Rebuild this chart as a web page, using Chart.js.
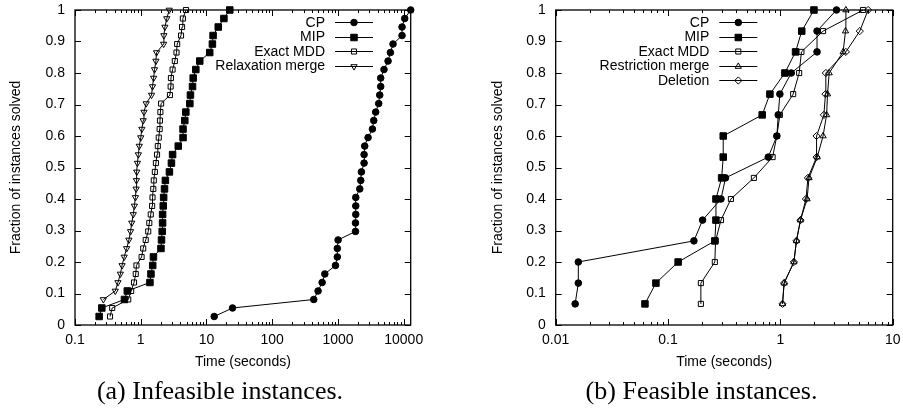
<!DOCTYPE html>
<html>
<head>
<meta charset="utf-8">
<script src="https://cdn.jsdelivr.net/npm/chart.js@4.4.1/dist/chart.umd.min.js"></script>
<style>
  body { margin: 0; background: #fff; }
  #wrap { position: relative; width: 903px; height: 409px; overflow: hidden; }
  .panel { position: absolute; top: 0; height: 380px; }
  .cap { position: absolute; top: 378px; font: 26px/26px "Liberation Serif", "Times New Roman", serif; color: #000; text-align: center; white-space: nowrap; }
</style>
</head>
<body>
<div id="wrap">
  <div class="panel" style="left:0;width:450px"><canvas id="chartA"></canvas></div>
  <div class="panel" style="left:450px;width:453px"><canvas id="chartB"></canvas></div>
  <div class="cap" style="left:0;width:440px">(a) Infeasible instances.</div>
  <div class="cap" style="left:450px;width:503px">(b) Feasible instances.</div>
</div>
<script>
// fraction of instances solved (k / 37 and k / 15)
var fracA = [0.027, 0.054, 0.081, 0.108, 0.135, 0.162, 0.189, 0.216, 0.243, 0.270, 0.297, 0.324, 0.351, 0.378, 0.405, 0.432, 0.459, 0.486, 0.514, 0.541, 0.568, 0.595, 0.622, 0.649, 0.676, 0.703, 0.730, 0.757, 0.784, 0.811, 0.838, 0.865, 0.892, 0.919, 0.946, 0.973, 1];
var fracB = [0.067, 0.133, 0.2, 0.267, 0.333, 0.4, 0.467, 0.533, 0.6, 0.667, 0.733, 0.8, 0.867, 0.933, 1];

// (a) infeasible instances, times in seconds
var cpA = [13.1, 24.9, 428, 498, 574, 631, 916, 977, 977, 1004, 1845, 1845, 1865, 1865, 1865, 2146, 2221, 2272, 2495, 2495, 2553, 2869, 3341, 3499, 3750, 4166, 4319, 4467, 4467, 5012, 5781, 6272, 6878, 9432, 9432, 10359, 12770];
var mipA = [0.233, 0.256, 0.565, 0.625, 1.38, 1.43, 1.52, 1.56, 2.03, 2.07, 2.12, 2.15, 2.15, 2.2, 2.23, 2.3, 2.37, 2.73, 2.93, 3.05, 3.72, 4.4, 4.4, 4.68, 4.85, 5.58, 5.7, 6.13, 6.28, 6.88, 7.9, 11.2, 12.3, 12.6, 15.1, 18.4, 22.6];
var mddA = [0.341, 0.368, 0.645, 0.715, 0.79, 0.84, 0.86, 1.03, 1.09, 1.19, 1.3, 1.35, 1.42, 1.49, 1.51, 1.55, 1.58, 1.64, 1.7, 1.77, 1.82, 1.88, 1.94, 1.96, 1.99, 2.04, 2.78, 2.85, 2.88, 3.05, 3.3, 3.5, 3.58, 4.1, 4.25, 4.37, 4.88];
var relaxA = [0.27, 0.41, 0.45, 0.49, 0.52, 0.56, 0.61, 0.66, 0.70, 0.73, 0.77, 0.80, 0.83, 0.85, 0.86, 0.87, 0.89, 0.92, 0.95, 1.0, 1.04, 1.09, 1.12, 1.21, 1.46, 1.51, 1.57, 1.62, 1.7, 1.74, 2.23, 2.25, 2.33, 2.49, 2.71];

// (b) feasible instances
var cpB = [0.0149, 0.0159, 0.0159, 0.170, 0.203, 0.296, 0.325, 0.780, 0.931, 0.957, 0.99, 1.25, 2.12, 2.12, 3.16];
var mipB = [0.0623, 0.078, 0.123, 0.261, 0.267, 0.267, 0.30, 0.31, 0.31, 0.689, 0.807, 1.097, 1.365, 1.55, 1.99];
var mddB = [0.196, 0.196, 0.261, 0.265, 0.296, 0.363, 0.581, 0.853, 0.93, 0.99, 1.30, 1.47, 1.54, 2.40, 5.45];
var restrB = [1.045, 1.08, 1.32, 1.39, 1.51, 1.73, 1.80, 2.13, 2.40, 2.58, 2.63, 2.72, 3.62, 3.80, 3.83];
var delB = [1.045, 1.08, 1.32, 1.39, 1.51, 1.69, 1.76, 2.10, 2.10, 2.44, 2.52, 2.54, 3.83, 5.09, 6.04];

var xTicksA = [0.1, 1, 10, 100, 1000, 10000];
var xTicksB = [0.01, 0.1, 1, 10];
var yTicks = [0, 0.1, 0.2, 0.3, 0.4, 0.5, 0.6, 0.7, 0.8, 0.9, 1];

Chart.defaults.font.family = '"Liberation Sans", Arial, Helvetica, sans-serif';
Chart.defaults.color = '#000';

function pts(times, frac) {
  var off = frac.length - times.length;
  return times.map(function (t, i) { return { x: t, y: frac[off + i] }; });
}

var marks = {
  cp:    { pointStyle: 'circle', pointRadius: 3.3, pointBackgroundColor: '#000' },
  mip:   { pointStyle: 'rect', pointRadius: 4.6, pointBackgroundColor: '#000' },
  mdd:   { pointStyle: 'rect', pointRadius: 3.6, pointBackgroundColor: 'rgba(0,0,0,0)' },
  down:  { pointStyle: 'triangle', pointRadius: 3.6, pointRotation: 180, pointBackgroundColor: 'rgba(0,0,0,0)' },
  up:    { pointStyle: 'triangle', pointRadius: 3.6, pointBackgroundColor: 'rgba(0,0,0,0)' },
  diam:  { pointStyle: 'rectRot', pointRadius: 3.6, pointBackgroundColor: 'rgba(0,0,0,0)' }
};

function series(label, data, mk) {
  return Object.assign({
    label: label, data: data, showLine: true, borderColor: '#000', borderWidth: 1,
    pointBorderColor: '#000', pointBorderWidth: 1, pointHoverRadius: 0, tension: 0, clip: false
  }, mk);
}

// gnuplot style border with inward ticks on all four sides
var frameTicks = {
  id: 'frameTicks',
  beforeDatasetsDraw: function (chart, args, opts) {
    var ctx = chart.ctx, a = chart.chartArea, xs = chart.scales.x, ys = chart.scales.y;
    ctx.save();
    ctx.strokeStyle = '#000';
    ctx.lineWidth = 1;
    ctx.beginPath();
    function vtick(v, len) {
      var px = Math.round(xs.getPixelForValue(v)) + 0.5;
      ctx.moveTo(px, a.bottom); ctx.lineTo(px, a.bottom - len);
      ctx.moveTo(px, a.top); ctx.lineTo(px, a.top + len);
    }
    opts.xMajor.forEach(function (v) { vtick(v, 6); });
    opts.xMajor.forEach(function (d) {
      for (var m = 2; m <= 9; m++) {
        if (m * d < xs.max) vtick(m * d, 3);
      }
    });
    yTicks.forEach(function (v) {
      var py = Math.round(ys.getPixelForValue(v)) + 0.5;
      ctx.moveTo(a.left, py); ctx.lineTo(a.left + 6, py);
      ctx.moveTo(a.right, py); ctx.lineTo(a.right - 6, py);
    });
    ctx.stroke();
    ctx.lineWidth = 1.3;
    ctx.strokeRect(a.left, a.top, a.right - a.left, a.bottom - a.top);
    ctx.restore();
  }
};

// key at top right: label, then a line sample with the point in the middle
var gnuKey = {
  id: 'gnuKey',
  afterDatasetsDraw: function (chart, args, opts) {
    var ctx = chart.ctx, a = chart.chartArea;
    var right = a.right - opts.fromRight;
    ctx.save();
    ctx.font = '14px "Liberation Sans", Arial, sans-serif';
    ctx.textAlign = 'right';
    ctx.textBaseline = 'middle';
    chart.data.datasets.forEach(function (ds, i) {
      var y = a.top + opts.top + i * opts.row;
      ctx.fillStyle = '#000';
      ctx.fillText(ds.label, right, y + 0.5);
      ctx.strokeStyle = '#000';
      ctx.lineWidth = 1;
      ctx.beginPath();
      ctx.moveTo(right + 10, Math.round(y) + 0.5);
      ctx.lineTo(right + 48, Math.round(y) + 0.5);
      ctx.stroke();
      ctx.fillStyle = ds.pointBackgroundColor;
      Chart.helpers.drawPoint(ctx, {
        pointStyle: ds.pointStyle, radius: ds.pointRadius, borderWidth: 1, rotation: ds.pointRotation || 0
      }, right + 29, Math.round(y) + 0.5);
    });
    ctx.restore();
  }
};

function makeChart(id, datasets, xMin, xMax, xTicks, yAxisWidth, yTitlePad, padRight, keyRight) {
  return new Chart(document.getElementById(id), {
    type: 'scatter',
    data: { datasets: datasets },
    options: {
      responsive: true,
      maintainAspectRatio: false,
      animation: false,
      events: [],
      layout: { padding: { left: 0, top: 10, right: padRight, bottom: 0 } },
      plugins: {
        legend: { display: false },
        tooltip: { enabled: false },
        frameTicks: { xMajor: xTicks },
        gnuKey: { fromRight: keyRight, top: 12.3, row: 14.5 }
      },
      scales: {
        x: {
          type: 'logarithmic', min: xMin, max: xMax,
          grid: { display: false, drawTicks: false }, border: { display: false },
          afterBuildTicks: function (s) { s.ticks = xTicks.map(function (v) { return { value: v }; }); },
          afterFit: function (s) { s.height = 55; s.paddingLeft = 0; s.paddingRight = 0; },
          ticks: { font: { size: 14 }, padding: 7, autoSkip: false, maxRotation: 0,
            callback: function (v) { return String(v); } },
          title: { display: true, text: 'Time (seconds)', font: { size: 14 }, padding: { top: 0, bottom: 9.6 } }
        },
        y: {
          min: 0, max: 1,
          grid: { display: false, drawTicks: false }, border: { display: false },
          afterBuildTicks: function (s) { s.ticks = yTicks.map(function (v) { return { value: v }; }); },
          afterFit: function (s) { s.width = yAxisWidth; s.paddingTop = 0; s.paddingBottom = 0; },
          ticks: { font: { size: 14 }, padding: 10, callback: function (v) { return String(v); } },
          title: { display: true, text: 'Fraction of instances solved', font: { size: 14 }, padding: { top: yTitlePad, bottom: 0 } }
        }
      }
    },
    plugins: [frameTicks, gnuKey]
  });
}

makeChart('chartA', [
  series('CP', pts(cpA, fracA), marks.cp),
  series('MIP', pts(mipA, fracA), marks.mip),
  series('Exact MDD', pts(mddA, fracA), marks.mdd),
  series('Relaxation merge', pts(relaxA, fracA), marks.down)
], 0.1, 12770, xTicksA, 75, 7.6, 39.3, 85.7);

makeChart('chartB', [
  series('CP', pts(cpB, fracB), marks.cp),
  series('MIP', pts(mipB, fracB), marks.mip),
  series('Exact MDD', pts(mddB, fracB), marks.mdd),
  series('Restriction merge', pts(restrB, fracB), marks.up),
  series('Deletion', pts(delB, fracB), marks.diam)
], 0.01, 10, xTicksB, 105.7, 39.6, 10.3, 183.4);
</script>
</body>
</html>
